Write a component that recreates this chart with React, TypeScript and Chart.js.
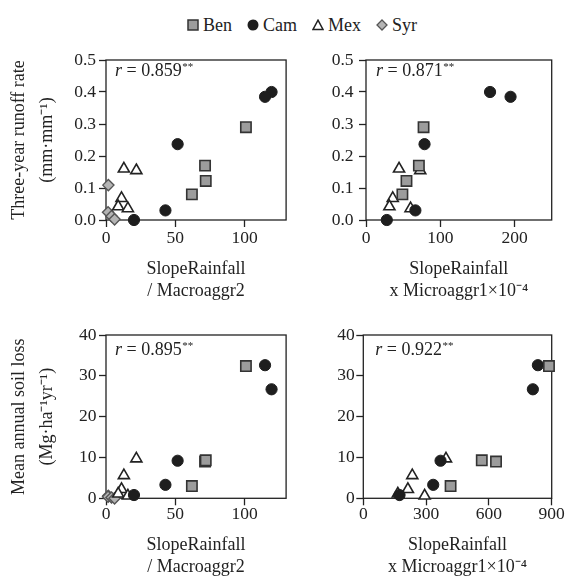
import React, { useEffect, useRef } from 'react';
import { Chart, registerables } from 'chart.js';

Chart.register(...registerables);

const SERIF = "'Liberation Serif', 'Times New Roman', serif";
Chart.defaults.font.family = SERIF;

// ---------- data ----------
const SITES = ['Ben', 'Cam', 'Mex', 'Syr'];

// x: SlopeRainfall / Macroaggr2
const BEN_X_MACRO = [101, 71.5, 72, 62];
const CAM_X_MACRO = [119.5, 114.8, 51.7, 42.9, 20.2];
const MEX_X_MACRO = [12.9, 21.9, 11.2, 8.8, 15.8];
const SYR_X_MACRO = [1.7, 1.5, 4.0, 6.2];

// x: SlopeRainfall x Microaggr1 x 10^-4 (runoff panel)
const BEN_X_MICRO_RUNOFF = [77.5, 71.2, 54.5, 49];
const CAM_X_MICRO_RUNOFF = [167, 194.6, 78.8, 66.5, 28];
const MEX_X_MICRO_RUNOFF = [44.5, 73, 36, 31.5, 60];

// x: SlopeRainfall x Microaggr1 x 10^-4 (soil loss panel)
const BEN_X_MICRO_SOIL = [887, 634, 566, 417];
const CAM_X_MICRO_SOIL = [810, 834, 369, 334, 173];
const MEX_X_MICRO_SOIL = [234, 395, 213, 165, 293];

// y: three-year runoff rate
const BEN_RUNOFF = [0.29, 0.17, 0.122, 0.08];
const CAM_RUNOFF = [0.4, 0.385, 0.237, 0.03, 0.0];
const MEX_RUNOFF = [0.16, 0.155, 0.068, 0.042, 0.036];
const SYR_RUNOFF = [0.109, 0.024, 0.012, 0.002];

// y: mean annual soil loss
const BEN_SOIL = [32.4, 9.0, 9.3, 3.0];
const CAM_SOIL = [26.7, 32.6, 9.2, 3.3, 0.8];
const MEX_SOIL = [5.6, 9.7, 2.2, 1.1, 0.6];
const SYR_SOIL = [0.6, 0.4, 0.2, 0.0];

const R_VALUES = ['0.859', '0.871', '0.895', '0.922'];

const X_TICKS_MACRO = [0, 50, 100];
const X_TICKS_MICRO_RUNOFF = [0, 100, 200];
const X_TICKS_MICRO_SOIL = [0, 300, 600, 900];
const Y_TICKS_RUNOFF = [0, 0.1, 0.2, 0.3, 0.4, 0.5];
const Y_TICKS_SOIL = [0, 10, 20, 30, 40];

const X_TITLE_MACRO = ['SlopeRainfall', '/ Macroaggr2'];
const X_TITLE_MICRO = ['SlopeRainfall', 'x Microaggr1\u00D710\u207B\u2074'];
const Y_TITLE_RUNOFF = ['Three-year runoff rate', '(mm\u00B7mm\u207B\u00B9)'];
const Y_TITLE_SOIL = ['Mean annual soil loss', '(Mg\u00B7ha\u207B\u00B9yr\u207B\u00B9)'];

// ---------- styles ----------
const MARKERS: Record<string, any> = {
  Ben: { pointStyle: 'rect', radius: 7.3, bg: '#9c9c9c', border: '#333333', bw: 1.6 },
  Cam: { pointStyle: 'circle', radius: 5.6, bg: '#1e1e1e', border: '#1e1e1e', bw: 1 },
  Mex: { pointStyle: 'triangle', radius: 6.4, bg: '#ffffff', border: '#222222', bw: 1.6 },
  Syr: { pointStyle: 'rectRot', radius: 5.6, bg: '#b4b4b4', border: '#555555', bw: 1.4 },
};

const PANELS = [
  {
    box: { left: 0, top: 36, width: 295, height: 266 },
    plot: { l: 106, t: 60, r: 288.3, b: 220 },
    xMax: 130, xTicks: X_TICKS_MACRO, yMax: 0.5, yTicks: Y_TICKS_RUNOFF, yDec: 1,
    xTitle: X_TITLE_MACRO, yTitle: Y_TITLE_RUNOFF, r: R_VALUES[0], rdx: 9, rdy: 16,
    xPad: 3, yPad: 3,
    series: [
      ['Ben', BEN_X_MACRO, BEN_RUNOFF],
      ['Cam', CAM_X_MACRO, CAM_RUNOFF],
      ['Mex', MEX_X_MACRO, MEX_RUNOFF],
      ['Syr', SYR_X_MACRO, SYR_RUNOFF],
    ],
  },
  {
    box: { left: 295, top: 36, width: 270, height: 266 },
    plot: { l: 366, t: 60, r: 551.7, b: 220 },
    xMax: 250, xTicks: X_TICKS_MICRO_RUNOFF, yMax: 0.5, yTicks: Y_TICKS_RUNOFF, yDec: 1,
    xTitle: X_TITLE_MICRO, yTitle: null, r: R_VALUES[1], rdx: 10, rdy: 16,
    xPad: 3, yPad: 5.5,
    series: [
      ['Ben', BEN_X_MICRO_RUNOFF, BEN_RUNOFF],
      ['Cam', CAM_X_MICRO_RUNOFF, CAM_RUNOFF],
      ['Mex', MEX_X_MICRO_RUNOFF, MEX_RUNOFF],
    ],
  },
  {
    box: { left: 0, top: 310, width: 295, height: 268 },
    plot: { l: 106, t: 335, r: 288.3, b: 498.3 },
    xMax: 130, xTicks: X_TICKS_MACRO, yMax: 40, yTicks: Y_TICKS_SOIL, yDec: 0,
    xTitle: X_TITLE_MACRO, yTitle: Y_TITLE_SOIL, r: R_VALUES[2], rdx: 9, rdy: 20,
    xPad: 0, yPad: 2.5,
    series: [
      ['Ben', BEN_X_MACRO, BEN_SOIL],
      ['Cam', CAM_X_MACRO, CAM_SOIL],
      ['Mex', MEX_X_MACRO, MEX_SOIL],
      ['Syr', SYR_X_MACRO, SYR_SOIL],
    ],
  },
  {
    box: { left: 295, top: 310, width: 285, height: 268 },
    plot: { l: 363.3, t: 335, r: 551.7, b: 498.3 },
    xMax: 900, xTicks: X_TICKS_MICRO_SOIL, yMax: 40, yTicks: Y_TICKS_SOIL, yDec: 0,
    xTitle: X_TITLE_MICRO, yTitle: null, r: R_VALUES[3], rdx: 12, rdy: 20,
    xPad: 0, yPad: 1.5,
    series: [
      ['Ben', BEN_X_MICRO_SOIL, BEN_SOIL],
      ['Cam', CAM_X_MICRO_SOIL, CAM_SOIL],
      ['Mex', MEX_X_MICRO_SOIL, MEX_SOIL],
    ],
  },
];

// ---------- plugins ----------
const framePlugin = {
  id: 'frame',
  beforeDatasetsDraw(chart: any) {
    const { ctx, chartArea: a } = chart;
    ctx.save();
    ctx.strokeStyle = '#222';
    ctx.lineWidth = 1.3;
    ctx.strokeRect(a.left, a.top, a.right - a.left, a.bottom - a.top);
    ctx.restore();
  },
};

const rPlugin = {
  id: 'rLabel',
  afterDraw(chart: any, _args: any, opts: any) {
    const { ctx, chartArea: a } = chart;
    let x = a.left + opts.dx;
    const y = a.top + opts.dy;
    ctx.save();
    ctx.fillStyle = '#222';
    ctx.textBaseline = 'alphabetic';
    ctx.textAlign = 'left';
    ctx.font = `italic 18px ${SERIF}`;
    ctx.fillText('r', x, y);
    x += ctx.measureText('r').width;
    ctx.font = `18px ${SERIF}`;
    const t = ' = ' + opts.value;
    ctx.fillText(t, x, y);
    x += ctx.measureText(t).width;
    ctx.font = `11px ${SERIF}`;
    ctx.fillText('**', x + 0.5, y - 6);
    ctx.restore();
  },
};

function Panel({ p }: { p: any }) {
  const ref = useRef<HTMLCanvasElement | null>(null);
  useEffect(() => {
    if (!ref.current) return;
    const datasets = p.series.map(([name, xs, ys]: any) => {
      const m = MARKERS[name];
      return {
        label: name,
        data: xs.map((x: number, i: number) => ({ x, y: ys[i] })),
        pointStyle: m.pointStyle,
        pointRadius: m.radius,
        pointBackgroundColor: m.bg,
        pointBorderColor: m.border,
        pointBorderWidth: m.bw,
        showLine: false,
        clip: false,
      };
    });
    const tickFont = { family: SERIF, size: 17.5, lineHeight: 1 };
    const chart = new Chart(ref.current, {
      type: 'scatter',
      data: { datasets },
      options: {
        responsive: false,
        animation: false,
        events: [],
        layout: {
          padding: {
            left: 0,
            top: p.plot.t - p.box.top,
            right: p.box.left + p.box.width - p.plot.r,
            bottom: 0,
          },
        },
        plugins: {
          legend: { display: false },
          tooltip: { enabled: false },
          rLabel: { dx: p.rdx, dy: p.rdy, value: p.r },
        } as any,
        scales: {
          x: {
            type: 'linear',
            min: 0,
            max: p.xMax,
            afterBuildTicks: (s: any) => { s.ticks = p.xTicks.map((v: number) => ({ value: v })); },
            afterFit: (s: any) => { s.height = p.box.top + p.box.height - p.plot.b; },
            grid: { drawOnChartArea: false, drawTicks: true, tickLength: 7, tickColor: '#222', tickWidth: 1.3 },
            border: { display: false },
            ticks: { color: '#222', font: tickFont, padding: p.xPad, maxRotation: 0, autoSkip: false },
            title: {
              display: true,
              text: p.xTitle,
              color: '#222',
              font: { family: SERIF, size: 18, lineHeight: '22px' },
              padding: { top: 0, bottom: 0 },
            },
          },
          y: {
            type: 'linear',
            min: 0,
            max: p.yMax,
            afterBuildTicks: (s: any) => { s.ticks = p.yTicks.map((v: number) => ({ value: v })); },
            afterFit: (s: any) => { s.width = p.plot.l - p.box.left; },
            grid: { drawOnChartArea: false, drawTicks: true, tickLength: 7, tickColor: '#222', tickWidth: 1.3 },
            border: { display: false },
            ticks: {
              color: '#222',
              font: tickFont,
              padding: p.yPad,
              autoSkip: false,
              callback: (v: any) => Number(v).toFixed(p.yDec),
            },
            title: p.yTitle
              ? {
                  display: true,
                  text: p.yTitle,
                  color: '#222',
                  font: { family: SERIF, size: 18, lineHeight: '28px' },
                  padding: { top: 5, bottom: 0 },
                }
              : { display: false },
          },
        },
      } as any,
      plugins: [framePlugin, rPlugin],
    });
    return () => chart.destroy();
  }, [p]);
  return (
    <canvas
      ref={ref}
      width={p.box.width}
      height={p.box.height}
      style={{
        position: 'absolute',
        left: p.box.left,
        top: p.box.top,
        width: p.box.width,
        height: p.box.height,
      }}
    />
  );
}

function Marker({ name }: { name: string }) {
  const m = MARKERS[name];
  let shape: any = null;
  if (name === 'Ben') shape = <rect x={1} y={1} width={10} height={10} fill={m.bg} stroke={m.border} strokeWidth={1.5} />;
  if (name === 'Cam') shape = <circle cx={6} cy={6} r={5.5} fill={m.bg} />;
  if (name === 'Mex') shape = <polygon points="6,1.2 11,10.5 1,10.5" fill={m.bg} stroke={m.border} strokeWidth={1.5} />;
  if (name === 'Syr') shape = <polygon points="6,1 11,6 6,11 1,6" fill={m.bg} stroke={m.border} strokeWidth={1.3} />;
  return (
    <svg width={12} height={12} style={{ display: 'block' }}>
      {shape}
    </svg>
  );
}

export default function App() {
  return (
    <div
      style={{
        position: 'absolute',
        left: 0,
        top: 0,
        width: 565,
        height: 577,
        overflow: 'hidden',
        background: '#fff',
        fontFamily: SERIF,
      }}
    >
      <div
        style={{
          position: 'absolute',
          left: 187,
          top: 16,
          display: 'flex',
          alignItems: 'center',
          height: 18,
          lineHeight: '18px',
          fontSize: 18,
          color: '#222',
          whiteSpace: 'nowrap',
        }}
      >
        {SITES.map((s, i) => (
          <div key={s} style={{ display: 'flex', alignItems: 'center', marginLeft: i === 0 ? 0 : 15 }}>
            <Marker name={s} />
            <span style={{ marginLeft: 4 }}>{s}</span>
          </div>
        ))}
      </div>
      {PANELS.map((p, i) => (
        <Panel key={i} p={p} />
      ))}
    </div>
  );
}
